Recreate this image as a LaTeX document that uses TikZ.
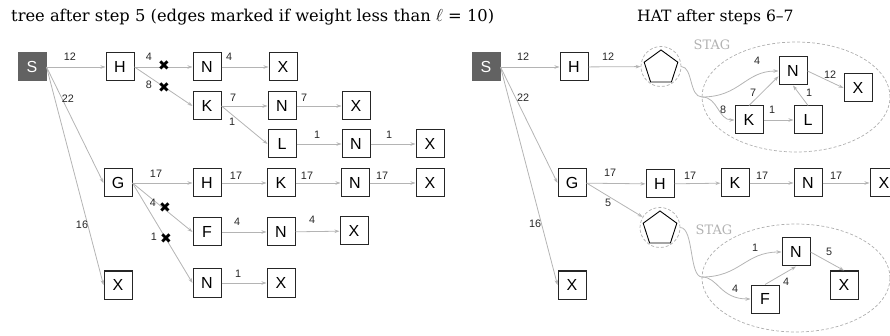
\documentclass[tikz,border=0pt]{standalone}
\usepackage{fontspec}
\setmainfont{DejaVu Serif}
\setsansfont{Liberation Sans}
\newfontfamily\symfont{DejaVu Sans}
\usetikzlibrary{arrows.meta,shapes.geometric}
\definecolor{edgec}{RGB}{180,180,180}
\definecolor{sfill}{RGB}{98,98,98}
\definecolor{dashc}{RGB}{175,175,175}
\definecolor{stagc}{RGB}{178,178,178}
\tikzset{
 nbox/.style={draw=black!85, line width=1pt, minimum size=28pt, inner sep=0pt, font=\sffamily\fontsize{16}{16}\selectfont},
 sbox/.style={nbox, draw=sfill, fill=sfill, text=white},
 conn/.style={draw=edgec, line width=0.8pt, -{Stealth[length=5pt,width=3.5pt]}},
 plainconn/.style={draw=edgec, line width=0.8pt},
 lab/.style={font=\sffamily\fontsize{10.8}{10.8}\selectfont, inner sep=0pt, text=black!85},
 xmark/.style={font=\symfont\fontsize{14}{14}\selectfont, inner sep=0pt},
 pent/.style={regular polygon, regular polygon sides=5, minimum size=35.4pt, draw=black, line width=0.9pt, inner sep=0pt},
 halo/.style={circle, minimum size=40pt, draw=dashc, dash pattern=on 3pt off 2pt, line width=0.7pt, inner sep=0pt},
 stagline/.style={draw=dashc, dash pattern=on 3pt off 2pt, line width=0.7pt},
 ttl/.style={font=\fontsize{16.3}{16.3}\selectfont, inner sep=0pt, anchor=base west},
 staglab/.style={font=\fontsize{13}{13}\selectfont, text=stagc, inner sep=0pt},
}
\begin{document}
\begin{tikzpicture}[x=1pt,y=-1pt]
\useasboundingbox (0,0) rectangle (890,336);
\clip (0,0) rectangle (890,336);

% titles
\node[ttl] (t1) at (11,21.5) {tree after step 5 (edges marked if weight less than $\ell$ = 10)};
\node[ttl, font=\fontsize{15.6}{15.6}\selectfont] (t2) at (637,22) {HAT after steps 6–7};

% ---------- left tree ----------
\node[sbox] (S) at (32,67) {S};
\node[nbox] (H1) at (120,67) {H};
\node[nbox] (N1) at (207,67) {N};
\node[nbox] (X1) at (283,67) {X};
\node[nbox] (K2) at (207,106) {K};
\node[nbox] (N2) at (282,106) {N};
\node[nbox] (X2) at (356,106) {X};
\node[nbox] (L3) at (282,144) {L};
\node[nbox] (N3) at (356,144) {N};
\node[nbox] (X3) at (430,144) {X};
\node[nbox] (G4) at (118,183) {G};
\node[nbox] (H4) at (207,183) {H};
\node[nbox] (K4) at (281,183) {K};
\node[nbox] (N4) at (355,183) {N};
\node[nbox] (X4) at (430,183) {X};
\node[nbox] (F5) at (207,232) {F};
\node[nbox] (N5) at (281,232) {N};
\node[nbox] (X5) at (354,231) {X};
\node[nbox] (Xs) at (118,285) {X};
\node[nbox] (N6) at (207,283) {N};
\node[nbox] (X6) at (281,283) {X};

\draw[conn] (S) -- (H1);
\draw[conn] (S.east) -- (G4.west);
\draw[conn] (S.east) -- (Xs.west);
\draw[conn] (H1) -- (N1);
\draw[conn] (H1.east) -- (K2.west);
\draw[conn] (N1) -- (X1);
\draw[conn] (K2) -- (N2);
\draw[conn] (N2) -- (X2);
\draw[conn] (K2.east) -- (L3.west);
\draw[conn] (L3) -- (N3);
\draw[conn] (N3) -- (X3);
\draw[conn] (G4) -- (H4);
\draw[conn] (H4) -- (K4);
\draw[conn] (K4) -- (N4);
\draw[conn] (N4) -- (X4);
\draw[conn] (G4.east) -- (F5.west);
\draw[conn] (F5) -- (N5);
\draw[conn] (N5) -- (X5);
\draw[conn] (G4.east) -- (N6.west);
\draw[conn] (N6) -- (X6);

\node[xmark] (m1) at (164,66) {✖};
\node[xmark] (m2) at (164,88) {✖};
\node[xmark] (m3) at (165,208) {✖};
\node[xmark] (m4) at (166,239) {✖};

\node[lab] (a1) at (70,57) {12};
\node[lab] (a2) at (149,57) {4};
\node[lab] (a3) at (149,85) {8};
\node[lab] (a4) at (229,57) {4};
\node[lab] (a5) at (233,98) {7};
\node[lab] (a6) at (304,98) {7};
\node[lab] (a7) at (232,122) {1};
\node[lab] (a8) at (317,135) {1};
\node[lab] (a9) at (389,135) {1};
\node[lab] (a10) at (68,99) {22};
\node[lab] (a11) at (82,225) {16};
\node[lab] (a12) at (156,174) {17};
\node[lab] (a13) at (236,176) {17};
\node[lab] (a14) at (307,176) {17};
\node[lab] (a15) at (382,176) {17};
\node[lab] (a16) at (153,203) {4};
\node[lab] (a17) at (154,237) {1};
\node[lab] (a18) at (237,222) {4};
\node[lab] (a19) at (312,220) {4};
\node[lab] (a20) at (238,274) {1};

% ---------- right HAT ----------
\node[sbox] (rS) at (486,67) {S};
\node[nbox] (rH) at (574,67) {H};
\node[pent] (p1) at (661,67.7) {};
\node[halo] (c1) at (661,66.5) {};
\node[nbox] (tN) at (793,71) {N};
\node[nbox] (tX) at (858,88) {X};
\node[nbox] (tK) at (749,120) {K};
\node[nbox] (tL) at (808,120) {L};
\coordinate (j1) at (702,97);
\node[nbox] (rG) at (572,183) {G};
\node[nbox] (rH4) at (660,184) {H};
\node[nbox] (rK4) at (735,183) {K};
\node[nbox] (rN4) at (808,183) {N};
\node[nbox] (rX4) at (884,183) {X};
\node[pent] (p2) at (660,228.7) {};
\node[halo] (c2) at (660,227.5) {};
\node[nbox] (bN) at (796,252) {N};
\node[nbox] (bX) at (844,285) {X};
\node[nbox] (bF) at (765,299) {F};
\coordinate (j2) at (702,277);
\node[nbox] (rXs) at (572,285) {X};

\draw[stagline] (796,97) ellipse [x radius=94pt, y radius=55pt];
\draw[stagline] (796,278) ellipse [x radius=94pt, y radius=54pt];
\node[staglab] (s1) at (712,45) {STAG};
\node[staglab] (s2) at (714,230) {STAG};

\draw[conn] (rS) -- (rH);
\draw[conn] (rS.east) -- (rG.west);
\draw[conn] (rS.east) -- (rXs.west);
\draw[conn] (rH) -- (c1);
\draw[plainconn] (c1.east) .. controls (693,67) and (689,97) .. (j1);
\draw[conn] (j1) .. controls (740,97) and (745,71) .. (tN.west);
\draw[conn] (j1) .. controls (718,97) and (718,120) .. (tK.west);
\draw[conn] (tK.north) -- (tN.200);
\draw[conn] (tK) -- (tL);
\draw[conn] (tL.north) -- (tN.south);
\draw[conn] (tN.east) -- (tX.west);

\draw[conn] (rG) -- (rH4);
\draw[conn] (rH4) -- (rK4);
\draw[conn] (rK4) -- (rN4);
\draw[conn] (rN4) -- (rX4);
\draw[conn] (rG.east) -- (c2);
\draw[plainconn] (c2.east) .. controls (694,228) and (689,277) .. (j2);
\draw[conn] (j2) .. controls (740,277) and (745,252) .. (bN.west);
\draw[conn] (j2) .. controls (718,277) and (720,299) .. (bF.west);
\draw[conn] (bF.north) -- (bN.south);
\draw[conn] (bN.east) -- (bX.north);

\node[lab] (b1) at (523,57) {12};
\node[lab] (b2) at (608,57) {12};
\node[lab] (b3) at (523,98) {22};
\node[lab] (b4) at (535,224) {16};
\node[lab] (b5) at (757,61) {4};
\node[lab] (b6) at (753,93) {7};
\node[lab] (b7) at (723,110) {8};
\node[lab] (b8) at (772,110) {1};
\node[lab] (b9) at (809,93) {1};
\node[lab] (b10) at (830,75) {12};
\node[lab] (b11) at (610,173) {17};
\node[lab] (b12) at (690,176) {17};
\node[lab] (b13) at (762,176) {17};
\node[lab] (b14) at (836,176) {17};
\node[lab] (b15) at (608,203) {5};
\node[lab] (b16) at (755,248) {1};
\node[lab] (b17) at (735,289) {4};
\node[lab] (b18) at (786,282) {4};
\node[lab] (b19) at (829,252) {5};
\end{tikzpicture}
\end{document}
